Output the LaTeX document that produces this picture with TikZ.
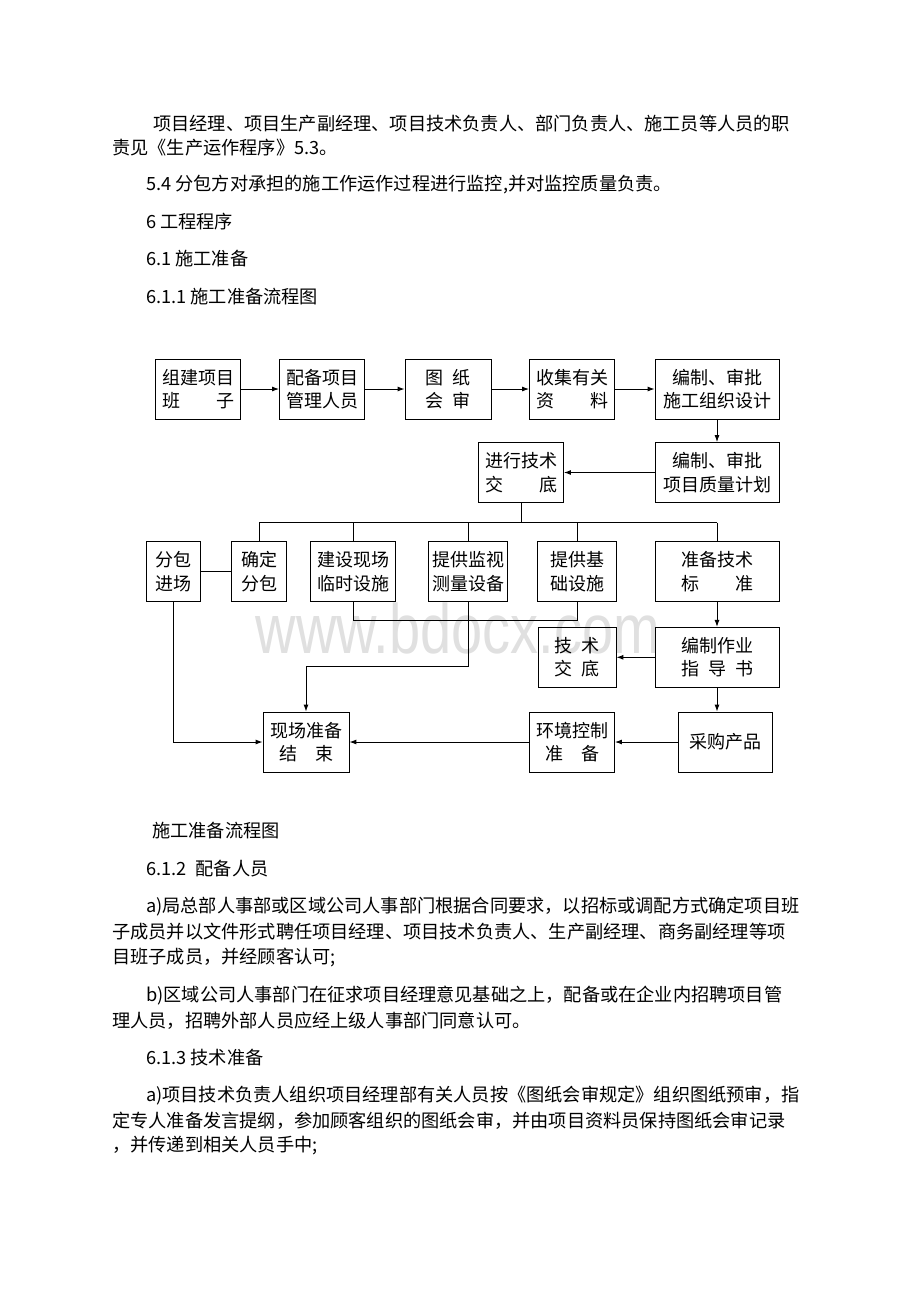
\documentclass[tikz,border=0pt]{standalone}
\usepackage{fontspec}
\usepackage{tikz}
\usetikzlibrary{arrows.meta}
\newfontfamily\cjk{Noto Sans CJK SC}
\newfontfamily\wmfont{Liberation Sans}
\tikzset{
	box/.style = {draw, line width = 0.8pt, align = center, inner sep = 0pt, minimum height = 60pt, font = \cjk\fontsize{18}{23.5}\selectfont},
	txt/.style = {anchor = west, inner sep = 0pt, font = \cjk\fontsize{18.2}{22}\selectfont},
	link/.style = {line width = 0.8pt},
	arr/.style = {line width = 1pt, -{Latex[length = 7pt, width = 5pt]}}
}

\begin{document}
\begin{tikzpicture}[x = 1pt, y = -1pt]
	\useasboundingbox (0,0) rectangle (920,1302);
	% watermark
	\node[anchor = base, inner sep = 0pt, text = black!12, font = \wmfont\fontsize{56}{56}\selectfont] (wm) at (458,653) {\scalebox{1}[1.25]{www.bdocx.com}};
	% text above the chart
	\node[txt] (p1) at (153,124) {项目经理、项目生产副经理、项目技术负责人、部门负责人、施工员等人员的职};
	\node[txt] (p2) at (112,148) {责见《生产运作程序》5.3。};
	\node[txt] (p3) at (146,185) {5.4 分包方对承担的施工作运作过程进行监控,并对监控质量负责。};
	\node[txt] (p4) at (146,222) {6 工程程序};
	\node[txt] (p5) at (146,259) {6.1 施工准备};
	\node[txt] (p6) at (146,297) {6.1.1 施工准备流程图};
	% row 1
	\node[box, minimum width = 85pt] (zj) at (198,389) {组建项目\\班\hspace{2em}子};
	\node[box, minimum width = 85pt] (pb) at (322,389) {配备项目\\管理人员};
	\node[box, minimum width = 86pt] (tz) at (448,389) {图\hspace{0.5em}纸\\会\hspace{0.5em}审};
	\node[box, minimum width = 85pt] (sj) at (572,389) {收集有关\\资\hspace{2em}料};
	\node[box, minimum width = 124pt] (sz) at (717,389) {编制、审批\\施工组织设计};
	% row 2
	\node[box, minimum width = 124pt] (zl) at (717,472.5) {编制、审批\\项目质量计划};
	\node[box, minimum width = 85pt] (jd) at (521,472.5) {进行技术\\交\hspace{2em}底};
	% row 3
	\node[box, minimum width = 54pt] (fb) at (173.5,571.7) {分包\\进场};
	\node[box, minimum width = 55pt] (qd) at (259,571.7) {确定\\分包};
	\node[box, minimum width = 85pt] (ls) at (353,571.7) {建设现场\\临时设施};
	\node[box, minimum width = 79pt] (jc) at (468,571.7) {提供监视\\测量设备};
	\node[box, minimum width = 79pt] (jcss) at (577,571.7) {提供基\\础设施};
	\node[box, minimum width = 124pt] (bz) at (717,571.7) {准备技术\\标\hspace{2em}准};
	% row 4
	\node[box, minimum width = 78pt] (jsjd) at (577,657.3) {技\hspace{0.5em}术\\交\hspace{0.5em}底};
	\node[box, minimum width = 124pt] (zy) at (717,657.3) {编制作业\\指\hspace{0.5em}导\hspace{0.5em}书};
	% row 5
	\node[box, minimum width = 86pt] (jsh) at (306,742) {现场准备\\结\hspace{1em}束};
	\node[box, minimum width = 85pt] (hj) at (572,742) {环境控制\\准\hspace{1em}备};
	\node[box, minimum width = 94pt] (cg) at (725.5,742) {采购产品};
	% connectors
	\foreach \a/\b in {zj/pb, pb/tz, tz/sj, sj/sz}
	\draw[arr] (\a) -- (\b);
	\draw[arr] (sz) -- (zl);
	\draw[arr] (zl) -- (jd);
	\coordinate (bus) at (0,522.5);
	\draw[link] (jd.south) -- (jd.south |- bus);
	\draw[link] (qd.north |- bus) -- (bz.north |- bus);
	\foreach \n in {qd, ls, jc, jcss, bz}
	\draw[link] (\n.north |- bus) -- (\n.north);
	\draw[link] (fb) -- (qd);
	\coordinate (low) at (0,620);
	\draw[link] (ls.south) |- (jcss.south |- low) -- (jcss.south);
	\coordinate (turn) at (0,666);
	\draw[arr] (jc.south) |- (jsh.north |- turn) -- (jsh.north);
	\draw[arr] (bz) -- (zy);
	\draw[arr] (zy) -- (jsjd);
	\draw[arr] (zy.south) -- (zy.south |- cg.north);
	\draw[arr] (cg) -- (hj);
	\draw[arr] (hj) -- (jsh);
	\draw[arr] (fb.south) |- (jsh.west);
	% text below the chart
	\node[txt] (c1) at (152,831) {施工准备流程图};
	\node[txt] (q1) at (146,869) {6.1.2\hspace{0.5em}配备人员};
	\node[txt] (q2) at (146,907) {a)局总部人事部或区域公司人事部门根据合同要求，以招标或调配方式确定项目班};
	\node[txt] (q3) at (112,932) {子成员并以文件形式聘任项目经理、项目技术负责人、生产副经理、商务副经理等项};
	\node[txt] (q4) at (112,957) {目班子成员，并经顾客认可;};
	\node[txt] (q5) at (146,996) {b)区域公司人事部门在征求项目经理意见基础之上，配备或在企业内招聘项目管};
	\node[txt] (q6) at (112,1021) {理人员，招聘外部人员应经上级人事部门同意认可。};
	\node[txt] (q7) at (146,1058) {6.1.3 技术准备};
	\node[txt] (q8) at (146,1096) {a)项目技术负责人组织项目经理部有关人员按《图纸会审规定》组织图纸预审，指};
	\node[txt] (q9) at (112,1121) {定专人准备发言提纲，参加顾客组织的图纸会审，并由项目资料员保持图纸会审记录};
	\node[txt] (q10) at (112,1146) {，并传递到相关人员手中;};
\end{tikzpicture}
\end{document}
